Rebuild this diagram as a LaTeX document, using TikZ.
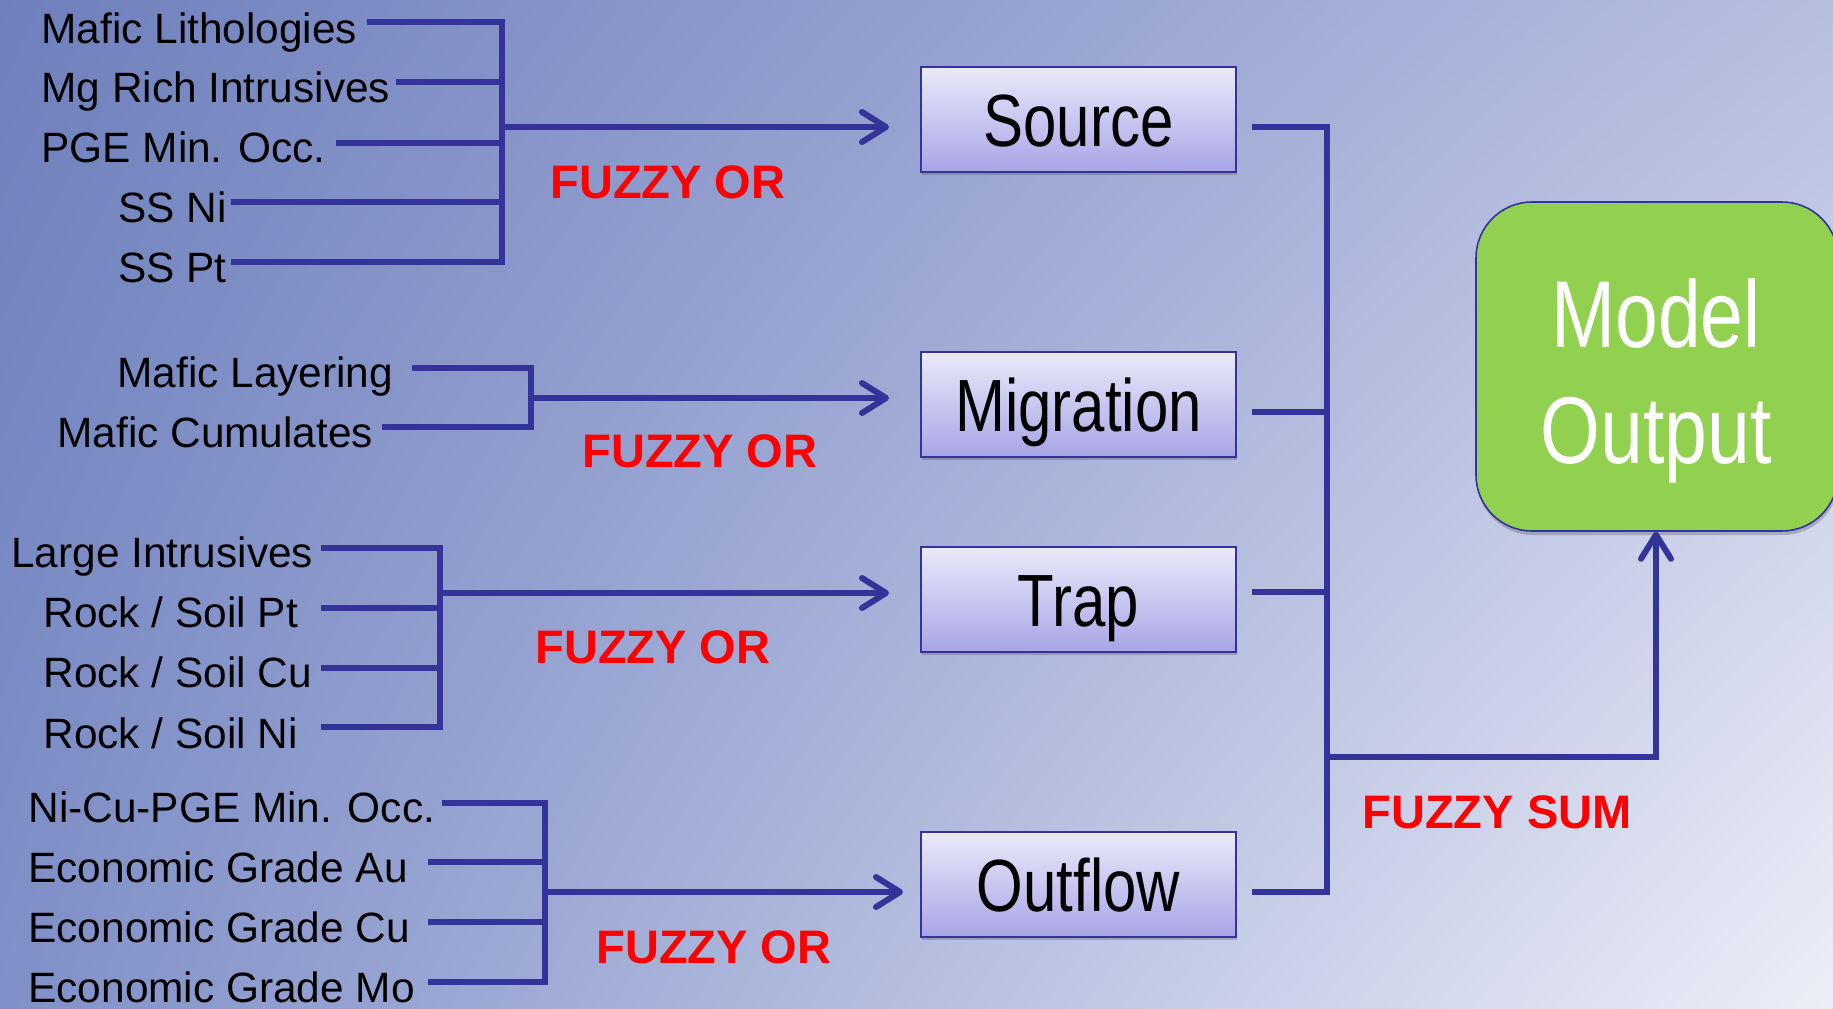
\documentclass[tikz,border=0pt]{standalone}
\usepackage{fontspec}
\setmainfont{Liberation Sans}
\newfontfamily\narrowsans[FakeStretch=0.81]{Liberation Sans}
\usetikzlibrary{arrows.meta,shadows,shadings}

\definecolor{wirecol}{RGB}{51,51,153}
\definecolor{boxtop}{RGB}{234,234,250}
\definecolor{boxbot}{RGB}{168,164,230}
\definecolor{modelgreen}{RGB}{146,208,80}
\definecolor{fuzzyred}{RGB}{255,0,0}
\definecolor{bgUL}{RGB}{110,127,188}
\definecolor{bgUR}{RGB}{182,190,224}
\definecolor{bgLL}{RGB}{128,144,200}
\definecolor{bgLR}{RGB}{236,238,247}

\tikzset{
  lbl/.style={anchor=base west, inner sep=0pt, font=\fontsize{21.2pt}{25pt}\selectfont},
  wire/.style={draw=wirecol, line width=3pt},
  joinbar/.style={wire, line cap=rect},
  feed/.style={wire, -{Straight Barb[length=12pt,width=15pt,round]}},
  stagebox/.style={draw=wirecol, line width=1pt, top color=boxtop, bottom color=boxbot,
    minimum width=157.5pt, minimum height=52.5pt, inner sep=0pt,
    font=\narrowsans\fontsize{37pt}{40pt}\selectfont, text height=26.5pt, text depth=0pt,
    drop shadow={shadow xshift=0.5pt, shadow yshift=-1.5pt, opacity=0.3, fill=black!70}},
  opname/.style={anchor=base, inner sep=0pt, text=fuzzyred,
    font=\bfseries\fontsize{23.5pt}{26pt}\selectfont},
  outbox/.style={draw=wirecol, line width=0.8pt, fill=modelgreen, rounded corners=28pt,
    minimum width=181pt, minimum height=164.5pt, inner sep=0pt,
    drop shadow={shadow xshift=0.5pt, shadow yshift=-2pt, opacity=0.3, fill=black!70}},
  outtext/.style={align=center, text=white, inner sep=0pt,
    font=\narrowsans\fontsize{47.5pt}{58pt}\selectfont}
}

\begin{document}
\begin{tikzpicture}[x=0.5pt,y=-0.5pt]
\useasboundingbox (0,0) rectangle (1833,1008);
\clip (0,0) rectangle (1833,1008);
% background
\shade[upper left=bgUL, upper right=bgUR, lower left=bgLL, lower right=bgLR]
  (0,0) rectangle (1833,1008);

% stage boxes
\node[stagebox] (src)  at (1078.5,119.5) {Source};
\node[stagebox] (mig)  at (1078.5,404.5) {Migration};
\node[stagebox] (trap) at (1078.5,599.5) {Trap};
\node[stagebox] (out)  at (1078.5,884.5) {Outflow};

% model output
\node[outbox] (model) at (1657,366.5) {};
\node[outtext] (mtext) at (1656,381) {Model\\Output};

% ---- group 1: source evidence
\node[lbl] (l11) at (41,43)   {Mafic Lithologies};
\node[lbl] (l12) at (41,102)  {Mg Rich Intrusives};
\node[lbl] (l13) at (41,162)  {PGE Min. Occ.};
\node[lbl] (l14) at (118,222) {SS Ni};
\node[lbl] (l15) at (118,282) {SS Pt};
\coordinate (b1) at (502,0);
\coordinate (s11) at (367,22);
\coordinate (s12) at (396,82);
\coordinate (s13) at (336,143);
\coordinate (s14) at (231,202);
\coordinate (s15) at (231,262);
\foreach \s in {s11,s12,s13,s14,s15} \draw[wire] (\s) -- (\s -| b1);
\draw[joinbar] (s11 -| b1) -- (s15 -| b1);
\coordinate (t1) at ([xshift=-15.5pt,yshift=-3.75pt]src.west);
\draw[feed] (b1 |- t1) -- (t1);
\node[opname] (op1) at (668,198) {FUZZY OR};

% ---- group 2: migration evidence
\node[lbl] (l21) at (117,387) {Mafic Layering};
\node[lbl] (l22) at (57,447)  {Mafic Cumulates};
\coordinate (b2) at (531,0);
\coordinate (s21) at (412,368);
\coordinate (s22) at (382,427);
\foreach \s in {s21,s22} \draw[wire] (\s) -- (\s -| b2);
\draw[joinbar] (s21 -| b2) -- (s22 -| b2);
\coordinate (t2) at ([xshift=-15.5pt,yshift=3.25pt]mig.west);
\draw[feed] (b2 |- t2) -- (t2);
\node[opname] (op2) at (700,467) {FUZZY OR};

% ---- group 3: trap evidence
\node[lbl] (l31) at (11,567) {Large Intrusives};
\node[lbl] (l32) at (43,627) {Rock / Soil Pt};
\node[lbl] (l33) at (43,687) {Rock / Soil Cu};
\node[lbl] (l34) at (43,748) {Rock / Soil Ni};
\coordinate (b3) at (440,0);
\coordinate (s31) at (321,548);
\coordinate (s32) at (321,608);
\coordinate (s33) at (321,668);
\coordinate (s34) at (321,727);
\foreach \s in {s31,s32,s33,s34} \draw[wire] (\s) -- (\s -| b3);
\draw[joinbar] (s31 -| b3) -- (s34 -| b3);
\coordinate (t3) at ([xshift=-15.5pt,yshift=3.25pt]trap.west);
\draw[feed] (b3 |- t3) -- (t3);
\node[opname] (op3) at (653,663) {FUZZY OR};

% ---- group 4: outflow evidence
\node[lbl] (l41) at (28,822)  {Ni-Cu-PGE Min. Occ.};
\node[lbl] (l42) at (28,882)  {Economic Grade Au};
\node[lbl] (l43) at (28,942)  {Economic Grade Cu};
\node[lbl] (l44) at (28,1002) {Economic Grade Mo};
\coordinate (b4) at (545,0);
\coordinate (s41) at (442,803);
\coordinate (s42) at (428,862);
\coordinate (s43) at (428,922);
\coordinate (s44) at (428,982);
\foreach \s in {s41,s42,s43,s44} \draw[wire] (\s) -- (\s -| b4);
\draw[joinbar] (s41 -| b4) -- (s44 -| b4);
\coordinate (t4) at ([xshift=-8.5pt,yshift=-3.75pt]out.west);
\draw[feed] (b4 |- t4) -- (t4);
\node[opname] (op4) at (714,963) {FUZZY OR};

% ---- fuzzy sum of the four stages
\coordinate (sb) at (1327,0);
\coordinate (c1) at ([xshift=7.5pt,yshift=-3.75pt]src.east);
\coordinate (c2) at ([xshift=7.5pt,yshift=-3.75pt]mig.east);
\coordinate (c3) at ([xshift=7.5pt,yshift=3.75pt]trap.east);
\coordinate (c4) at ([xshift=7.5pt,yshift=-3.75pt]out.east);
\foreach \c in {c1,c2,c3,c4} \draw[wire] (\c) -- (\c -| sb);
\draw[joinbar] (c1 -| sb) -- (c4 -| sb);
\coordinate (sj) at (1327,757);
\draw[wire, -{Straight Barb[length=12pt,width=15pt,round]}, line join=miter]
  (sj) -| ([xshift=-0.5pt]model.south);
\node[opname] (op5) at (1497,828) {FUZZY SUM};
\end{tikzpicture}
\end{document}
